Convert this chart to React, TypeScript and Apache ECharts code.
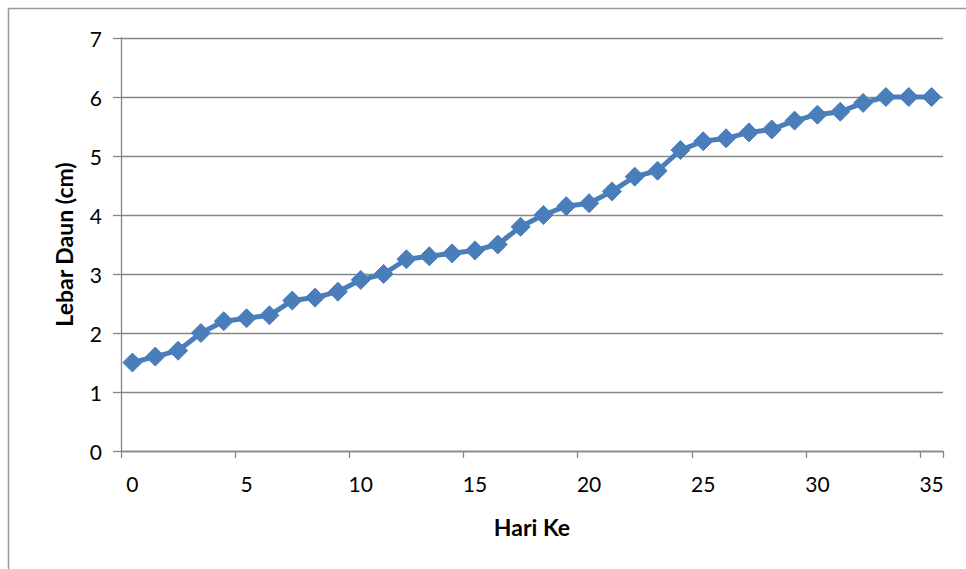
import React, { useEffect, useRef } from "react";
import * as echarts from "echarts";

// Day numbers along the horizontal axis
const days: string[] = Array.from({ length: 36 }, (_, i) => String(i));

// Leaf width measured each day (cm)
const leafWidth: number[] = [
  1.5, 1.6, 1.7, 2.0, 2.2, 2.25, 2.3, 2.55, 2.6, 2.7,
  2.9, 3.0, 3.25, 3.3, 3.35, 3.4, 3.5, 3.8, 4.0, 4.15,
  4.2, 4.4, 4.65, 4.75, 5.1, 5.25, 5.3, 5.4, 5.45, 5.6,
  5.7, 5.75, 5.9, 6.0, 6.0, 6.0,
];

const xTitle = "Hari Ke";
const yTitle = "Lebar Daun (cm)";

const FONT = "Lato, 'Open Sans', sans-serif";
const AXIS_GREY = "#868686";
const SERIES_BLUE = "#4A7EBB";

export default function App() {
  const ref = useRef<HTMLDivElement>(null);

  useEffect(() => {
    if (!ref.current) return;
    const chart = echarts.init(ref.current, undefined, { renderer: "svg" });
    chart.setOption({
      animation: false,
      backgroundColor: "#ffffff",
      textStyle: { fontFamily: FONT },
      graphic: [
        {
          type: "rect",
          shape: { x: 8.5, y: 8.5, width: 1200, height: 1200 },
          style: { fill: "none", stroke: "#9a9a9a", lineWidth: 1.5 },
          silent: true,
          z: -1,
        },
      ],
      grid: { left: 121, right: 23, top: 38, bottom: 118 },
      xAxis: {
        type: "category",
        data: days,
        boundaryGap: true,
        name: xTitle,
        nameLocation: "middle",
        nameGap: 64,
        nameTextStyle: { fontFamily: FONT, fontWeight: "bold", fontSize: 23, color: "#000" },
        axisLine: { lineStyle: { color: AXIS_GREY, width: 1.3 } },
        axisTick: { show: true, interval: 4, length: 7, lineStyle: { color: AXIS_GREY, width: 1.3 } },
        axisLabel: { interval: 4, margin: 22, fontFamily: FONT, fontSize: 21, color: "#000" },
        splitLine: { show: false },
      },
      yAxis: {
        type: "value",
        min: 0,
        max: 7,
        interval: 1,
        name: yTitle,
        nameLocation: "middle",
        nameGap: 46,
        nameTextStyle: { fontFamily: FONT, fontWeight: "bold", fontSize: 23, color: "#000" },
        axisLine: { show: true, lineStyle: { color: AXIS_GREY, width: 1.3 } },
        axisTick: { show: true, length: 8, lineStyle: { color: AXIS_GREY, width: 1.3 } },
        axisLabel: { margin: 19, fontFamily: FONT, fontSize: 21, color: "#000" },
        splitLine: { show: true, lineStyle: { color: AXIS_GREY, width: 1.3 } },
      },
      series: [
        {
          type: "line",
          data: leafWidth,
          symbol: "diamond",
          symbolSize: 19,
          showAllSymbol: true,
          lineStyle: { color: SERIES_BLUE, width: 5 },
          itemStyle: { color: SERIES_BLUE, borderColor: SERIES_BLUE },
        },
      ],
    });
    return () => chart.dispose();
  }, []);

  return (
    <div
      ref={ref}
      style={{ position: "fixed", left: 0, top: 0, width: 966, height: 569 }}
    />
  );
}
